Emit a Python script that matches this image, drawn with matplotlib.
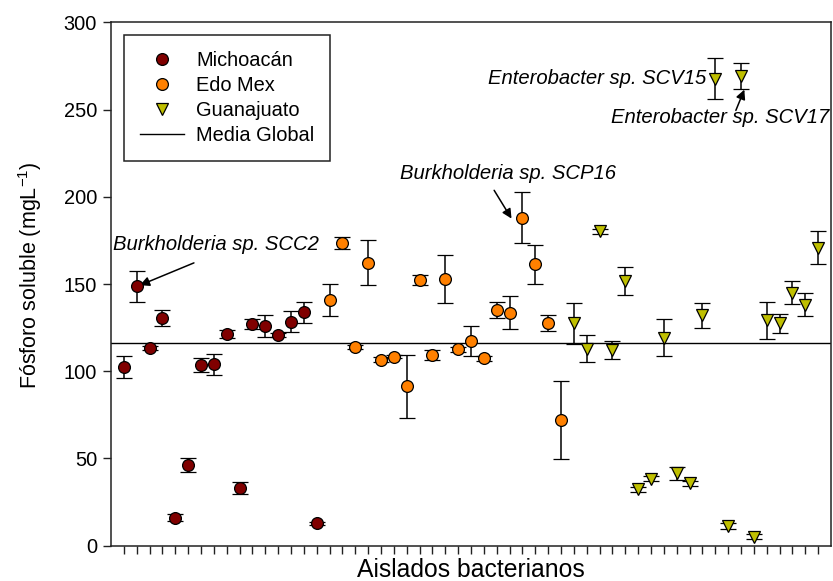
import numpy as np
import matplotlib
matplotlib.use("Agg")
import matplotlib.pyplot as plt
from matplotlib.lines import Line2D

plt.rcParams['font.family'] = ['Liberation Sans', 'DejaVu Sans']
plt.rcParams['mathtext.fontset'] = 'custom'
plt.rcParams['mathtext.rm'] = 'Liberation Sans'
plt.rcParams['mathtext.it'] = 'Liberation Sans:italic'
plt.rcParams['mathtext.bf'] = 'Liberation Sans:bold'

# Michoacán: positions 1..16
mich_x = list(range(1, 17))
mich_y = [102.5, 148.7, 113.4, 130.4, 16.0, 46.2, 103.3, 104.0, 121.4, 33.2,
          127.1, 126.0, 120.9, 128.3, 133.7, 12.8]
mich_e = [6.5, 8.8, 1.2, 4.6, 2.0, 3.8, 4.0, 6.0, 2.5, 3.4,
          2.8, 6.5, 1.0, 6.0, 6.0, 0.8]

# Edo Mex: positions 17..35
edo_x = list(range(17, 36))
edo_y = [140.9, 173.6, 114.0, 162.3, 106.7, 108.3, 91.3, 152.4, 109.4, 152.9,
         112.5, 117.4, 107.3, 135.0, 133.5, 188.1, 161.3, 127.7, 72.0]
edo_e = [9.0, 3.5, 1.0, 13.0, 1.5, 1.0, 18.1, 3.0, 3.0, 13.9,
         1.2, 8.7, 1.2, 4.7, 9.5, 14.5, 11.2, 4.5, 22.3]

# Guanajuato: positions 36..55
gto_x = list(range(36, 56))
gto_y = [127.4, 113.0, 180.2, 112.1, 151.8, 32.3, 38.4, 119.3, 41.5, 35.7,
         132.1, 267.7, 11.3, 269.0, 5.2, 129.3, 127.4, 145.1, 138.2, 170.9]
gto_e = [11.8, 7.9, 1.5, 5.0, 8.1, 1.5, 1.5, 10.4, 3.8, 1.5,
         7.2, 11.9, 1.5, 7.4, 1.5, 10.6, 5.2, 6.7, 6.8, 9.4]

y_ticks = [0, 50, 100, 150, 200, 250, 300]
global_mean = float(np.mean(mich_y + edo_y + gto_y))

W, H = 833, 581
fig = plt.figure(figsize=(W/100, H/100), dpi=100)
ax = fig.add_axes([111/W, 1-545.7/H, (831-111)/W, (545.7-22.3)/H])

FS = 14.4
FS_ANN = 14.6
c_mich = '#800000'
c_edo = '#ff8000'
c_gto = '#bfbf00'

ax.axhline(global_mean, color='black', lw=1.0, zorder=1)

ebkw = dict(ecolor='black', elinewidth=1.1, capsize=5.5, capthick=1.1, linestyle='none',
            markeredgecolor='black', markeredgewidth=0.9, zorder=3)
ax.errorbar(mich_x, mich_y, yerr=mich_e, fmt='o', markersize=8.5,
            markerfacecolor=c_mich, **ebkw)
ax.errorbar(edo_x, edo_y, yerr=edo_e, fmt='o', markersize=8.5,
            markerfacecolor=c_edo, **ebkw)
ax.errorbar(gto_x, gto_y, yerr=gto_e, fmt='v', markersize=9.2,
            markerfacecolor=c_gto, **ebkw)

ax.set_xlim(0, 56)
ax.set_ylim(0, 300)
ax.set_xticks(range(1, 56))
ax.set_xticklabels([])
ax.set_yticks(y_ticks)
ax.set_yticklabels([str(t) for t in y_ticks], fontsize=FS)
ax.tick_params(axis='both', direction='out', length=6, width=1, colors='#222222',
               labelcolor='black')
ax.tick_params(axis='y', pad=4)
for s in ax.spines.values():
    s.set_linewidth(1.1)
    s.set_color('#222222')

fig.text(471/W, 1-577/H, 'Aislados bacterianos', fontsize=17.8,
         ha='center', va='baseline')
fig.text(30/W, 1-275/H, 'Fósforo soluble (mgL$^{\\mathrm{-1}}$)', fontsize=15.5,
         rotation=90, ha='center', va='center')

handles = [
    Line2D([], [], marker='o', ls='none', mfc=c_mich, mec='black', ms=8.5, mew=0.9),
    Line2D([], [], marker='o', ls='none', mfc=c_edo, mec='black', ms=8.5, mew=0.9),
    Line2D([], [], marker='v', ls='none', mfc=c_gto, mec='black', ms=9.2, mew=0.9),
    Line2D([], [], color='black', lw=1.0),
]
leg = ax.legend(handles, ['Michoacán', 'Edo Mex', 'Guanajuato', 'Media Global'],
                loc='upper left', bbox_to_anchor=((124-111)/720, 1-(34.7-22.3)/523.4),
                fontsize=FS, frameon=True, fancybox=False, edgecolor='#222222',
                framealpha=1, handlelength=2.2, handletextpad=0.6, labelspacing=0.3,
                borderpad=0.8, borderaxespad=0)
leg.get_frame().set_linewidth(1.1)

ann_kw = dict(fontsize=FS_ANN, style='italic', color='black')
arrow = dict(arrowstyle='-|>', color='black', lw=1.1, mutation_scale=14,
             shrinkA=0, shrinkB=0)

ax.text(0.16, 172.7, 'Burkholderia sp. SCC2', ha='left', va='center', **ann_kw)
ax.annotate('', xy=(2.25, 149.3), xytext=(6.45, 162.1), arrowprops=arrow)

ax.text(22.5, 213.3, 'Burkholderia sp. SCP16', ha='left', va='center', **ann_kw)
ax.annotate('', xy=(31.15, 187.5), xytext=(29.8, 203.7), arrowprops=arrow)

ax.text(46.3, 267.9, 'Enterobacter sp. SCV15', ha='right', va='center', **ann_kw)

ax.text(55.85, 245.7, 'Enterobacter sp. SCV17', ha='right', va='center', **ann_kw)
ax.annotate('', xy=(49.26, 261.4), xytext=(48.6, 249.5), arrowprops=arrow)

fig.savefig('out.png', dpi=100)
